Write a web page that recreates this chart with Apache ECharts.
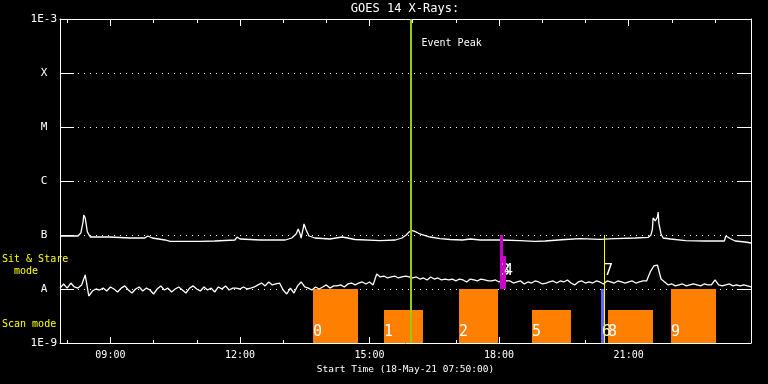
<!DOCTYPE html>
<html><head><meta charset="utf-8">
<script src="https://cdn.jsdelivr.net/npm/echarts@6/dist/echarts.min.js"></script>
<style>html,body{margin:0;padding:0;background:#000;}#c{width:768px;height:384px;}</style>
</head><body><div id="c"></div>
<script>
// ---------- data ----------
const chartTitle = 'GOES 14 X-Rays:';
const axisTitle = 'Start Time (18-May-21 07:50:00)';
const timeMin = '07:50', timeMax = '23:50';
const xMajorTicks = ['09:00','12:00','15:00','18:00','21:00'];
const xMinorTicks = ['08:00','09:00','10:00','11:00','12:00','13:00','14:00','15:00','16:00','17:00','18:00','19:00','20:00','21:00','22:00','23:00'];
const yTickValues = [1e-9,1e-8,1e-7,1e-6,1e-5,1e-4,1e-3];
const yTickLabels = ['1E-9','A','B','C','M','X','1E-3'];

// long channel (1-8 A)
const longTimes = ['07:50','08:04','08:15','08:19','08:22','08:23','08:25','08:28','08:32','08:59','09:27','09:48','09:52','09:58','10:16','10:23','11:05','11:25','11:53','11:56','12:00','12:28','13:03','13:12','13:18','13:21','13:24','13:25','13:28','13:29','13:32','13:36','13:44','14:05','14:22','14:40','15:15','15:36','15:45','15:51','15:55','15:58','16:03','16:10','16:24','16:38','16:52','17:09','17:20','17:34','18:02','18:29','18:50','19:04','19:18','19:32','19:53','20:20','20:41','21:09','21:27','21:31','21:33','21:34','21:37','21:40','21:41','21:42','21:45','21:48','21:58','22:19','22:46','23:13','23:15','23:17','23:21','23:28','23:42','23:50'];
const longFlux = [9.58e-8,9.58e-8,9.58e-8,1.09e-7,1.74e-7,2.35e-7,2.07e-7,1.14e-7,9.18e-8,9.18e-8,8.80e-8,8.80e-8,9.58e-8,8.80e-8,8.08e-8,7.6e-8,7.6e-8,7.74e-8,8.08e-8,9.18e-8,8.43e-8,8.08e-8,8.08e-8,8.80e-8,1.045e-7,1.29e-7,1.0e-7,8.8e-8,1.35e-7,1.60e-7,1.24e-7,9.58e-8,8.80e-8,8.43e-8,9.18e-8,8.25e-8,7.9e-8,8.08e-8,8.80e-8,1.0e-7,1.14e-7,1.22e-7,1.17e-7,1.045e-7,9.18e-8,8.6e-8,8.25e-8,8.08e-8,8.43e-8,8.08e-8,8.08e-8,7.84e-8,7.6e-8,7.74e-8,8.0e-8,8.25e-8,8.55e-8,8.3e-8,8.6e-8,8.80e-8,9.0e-8,1.0e-7,1.29e-7,2.07e-7,1.82e-7,2.15e-7,2.67e-7,1.65e-7,1.045e-7,8.8e-8,8.43e-8,7.9e-8,7.74e-8,7.74e-8,9.58e-8,1.0e-7,8.6e-8,7.74e-8,7.42e-8,7.11e-8];

// short channel (0.5-4 A), one sample every 5 minutes from 07:50
const shortStart = '07:50', shortStepMin = 5;
const shortFlux = [
1.04e-8,1.24e-8,1.04e-8,1.29e-8,1.09e-8,1.04e-8,1.19e-8,1.82e-8,7.42e-9,9.18e-9,1.00e-8,
9.58e-9,1.04e-8,9.18e-9,1.09e-8,1.00e-8,8.80e-9,1.04e-8,1.14e-8,9.58e-9,8.43e-9,1.00e-8,1.09e-8,9.18e-9,1.04e-8,9.58e-9,8.08e-9,1.00e-8,1.14e-8,9.58e-9,1.04e-8,8.80e-9,1.00e-8,1.09e-8,9.58e-9,8.43e-9,1.04e-8,1.14e-8,1.00e-8,9.18e-9,1.09e-8,9.58e-9,1.04e-8,8.80e-9,1.09e-8,1.00e-8,1.14e-8,9.58e-9,1.04e-8,
1.04e-8,1.00e-8,1.09e-8,1.00e-8,1.04e-8,1.09e-8,
1.19e-8,1.29e-8,1.14e-8,1.35e-8,1.19e-8,1.24e-8,1.29e-8,
9.58e-9,8.08e-9,1.04e-8,8.43e-9,1.14e-8,
1.35e-8,1.09e-8,
1.04e-8,9.58e-9,1.09e-8,1.00e-8,
1.09e-8,1.19e-8,1.04e-8,1.14e-8,1.14e-8,1.19e-8,1.09e-8,
1.24e-8,1.29e-8,1.19e-8,1.29e-8,1.35e-8,1.24e-8,
1.35e-8,1.19e-8,
1.90e-8,
1.67e-8,1.74e-8,1.60e-8,1.67e-8,1.74e-8,1.60e-8,1.67e-8,1.74e-8,1.67e-8,
1.60e-8,1.67e-8,1.53e-8,1.60e-8,1.47e-8,1.67e-8,1.53e-8,1.60e-8,1.47e-8,1.53e-8,
1.47e-8,1.53e-8,1.41e-8,1.53e-8,1.47e-8,1.35e-8,1.53e-8,1.47e-8,1.41e-8,1.53e-8,1.47e-8,1.41e-8,
1.41e-8,1.47e-8,1.35e-8,1.53e-8,1.41e-8,
1.41e-8,1.29e-8,1.35e-8,1.41e-8,1.24e-8,1.35e-8,1.29e-8,1.41e-8,1.35e-8,1.24e-8,1.29e-8,1.35e-8,1.41e-8,1.29e-8,
1.41e-8,1.35e-8,1.47e-8,1.29e-8,1.19e-8,1.35e-8,1.41e-8,1.29e-8,
1.35e-8,1.29e-8,1.41e-8,1.35e-8,1.24e-8,1.41e-8,1.35e-8,1.29e-8,1.41e-8,1.35e-8,1.29e-8,1.35e-8,1.41e-8,1.29e-8,1.35e-8,1.41e-8,
1.41e-8,2.07e-8,2.67e-8,2.78e-8,1.53e-8,
1.35e-8,
1.19e-8,1.24e-8,1.14e-8,1.19e-8,1.24e-8,1.14e-8,1.19e-8,1.24e-8,1.19e-8,1.14e-8,1.24e-8,1.19e-8,
1.19e-8,
1.47e-8,
1.19e-8,1.14e-8,1.19e-8,1.24e-8,1.14e-8,1.19e-8,1.14e-8,1.19e-8,1.14e-8,1.09e-8];

// scan mode observations (orange)
const scanLabels = ['0','1','2','5','8','9'];
const scanStart  = ['13:42','15:20','17:05','18:46','20:32','21:59'];
const scanEnd    = ['14:44','16:15','17:59','19:40','21:34','23:02'];
const scanTop    = [1e-8, 4.1e-9, 1e-8, 4.1e-9, 4.1e-9, 1e-8];
const scanBase   = 1e-9;

// sit & stare observations (magenta)
const sitLabels = ['3','4'];
const sitStart  = ['18:01','18:06'];
const sitEnd    = ['18:06','18:10'];
const sitTop    = [1e-7, 4.1e-8];
const sitBase   = 1e-8;

// other observation (blue) in scan row
const blueLabels = ['6'];
const blueStart = ['20:22'];
const blueEnd   = ['20:27'];
const blueTop   = [1e-8];

// observation marker line (yellow)
const markLabels = ['7'];
const markTime = ['20:26'];
const markFrom = [1e-9];
const markTo   = [1e-7];

// event peak
const peakTime = '15:58';
const peakLabel = 'Event Peak';

// ---------- helpers ----------
function toH(s){ const p = s.split(':'); return (+p[0]) + (+p[1]) / 60; }
const FONT = '"DejaVu Sans Mono", monospace';
const pad2 = n => (n < 10 ? '0' : '') + n;

const xMin = toH(timeMin), xMax = toH(timeMax);
const majorVals = xMajorTicks.map(toH);
const minorVals = xMinorTicks.map(toH);

const longData = longTimes.map((t, i) => [toH(t), longFlux[i]]);
const shortData = shortFlux.map((v, i) => [toH(shortStart) + i * shortStepMin / 60, v]);

function rectItem(api, t0, t1, lo, hi, color) {
  const a = api.coord([t0, hi]);
  const b = api.coord([t1, lo]);
  const x0 = Math.round(a[0]), x1 = Math.round(b[0]);
  const y0 = Math.round(a[1]), y1 = Math.round(b[1]);
  return { type: 'rect', shape: { x: x0, y: y0, width: Math.max(1, x1 - x0), height: y1 - y0 }, style: { fill: color } };
}
function labelItem(x, y, txt) {
  return { type: 'text', style: { text: txt, x: x, y: y, fill: '#ffffff', font: '15px ' + FONT, align: 'left', verticalAlign: 'middle' } };
}

const chart = echarts.init(document.getElementById('c'), null, { renderer: 'canvas' });

const baseX = { type: 'value', min: xMin, max: xMax, splitLine: { show: false }, axisLabel: { show: false }, axisLine: { show: false } };

const option = {
  backgroundColor: '#000000',
  animation: false,
  grid: { left: 60, right: 17, top: 19, bottom: 41, containLabel: false },
  xAxis: [
    Object.assign({}, baseX, {
      position: 'bottom',
      axisLine: { show: true, lineStyle: { color: '#ffffff', width: 1 } },
      axisTick: { show: true, inside: true, length: 6, customValues: majorVals, lineStyle: { color: '#ffffff' } },
      axisLabel: { show: true, customValues: majorVals, color: '#ffffff', fontFamily: FONT, fontSize: 10, margin: 7,
        formatter: v => pad2(Math.round(v)) + ':00' },
      name: axisTitle, nameLocation: 'middle', nameGap: 18,
      nameTextStyle: { color: '#ffffff', fontFamily: FONT, fontSize: 9.5 }
    }),
    Object.assign({}, baseX, {
      position: 'bottom',
      axisTick: { show: true, inside: true, length: 3, customValues: minorVals, lineStyle: { color: '#ffffff' } }
    }),
    Object.assign({}, baseX, {
      position: 'top',
      axisLine: { show: true, lineStyle: { color: '#ffffff', width: 1 } },
      axisTick: { show: true, inside: true, length: 7, customValues: majorVals, lineStyle: { color: '#ffffff' } }
    }),
    Object.assign({}, baseX, {
      position: 'top',
      axisTick: { show: true, inside: true, length: 4, customValues: minorVals, lineStyle: { color: '#ffffff' } }
    })
  ],
  yAxis: [
    {
      type: 'log', logBase: 10, min: 1e-9, max: 1e-3, splitNumber: 6, position: 'left',
      axisLine: { show: true, lineStyle: { color: '#ffffff', width: 1 } },
      axisTick: { show: true, inside: true, length: 14, lineStyle: { color: '#ffffff' } },
      minorTick: { show: false },
      splitLine: { show: true, lineStyle: { color: '#ffffff', width: 1, type: [1, 5] } },
      axisLabel: {
        color: '#ffffff', fontFamily: FONT, fontSize: 11, margin: 3,
        formatter: function (v) {
          const idx = Math.round(Math.log10(v)) + 9;
          const s = yTickLabels[idx] || '';
          return s.length === 1 ? '{c|' + s + '}' : s;
        },
        rich: { c: { width: 26, align: 'center', color: '#ffffff', fontFamily: FONT, fontSize: 11 } }
      }
    },
    {
      type: 'log', logBase: 10, min: 1e-9, max: 1e-3, splitNumber: 6, position: 'right',
      axisLine: { show: true, lineStyle: { color: '#ffffff', width: 1 } },
      axisTick: { show: true, inside: true, length: 14, lineStyle: { color: '#ffffff' } },
      axisLabel: { show: false }, splitLine: { show: false }, minorTick: { show: false }
    }
  ],
  graphic: [
    { type: 'text', x: 405, y: 9.2, style: { text: chartTitle, fill: '#ffffff', font: '12px ' + FONT, align: 'center', verticalAlign: 'middle' } },
    { type: 'text', x: 2, y: 259, style: { text: 'Sit & Stare', fill: '#ffff00', font: '10px ' + FONT, align: 'left', verticalAlign: 'middle' } },
    { type: 'text', x: 2, y: 271.5, style: { text: '  mode', fill: '#ffff00', font: '10px ' + FONT, align: 'left', verticalAlign: 'middle' } },
    { type: 'text', x: 2, y: 324.8, style: { text: 'Scan mode', fill: '#ffff00', font: '10px ' + FONT, align: 'left', verticalAlign: 'middle' } }
  ],
  series: [
    {
      name: 'scan', type: 'custom', z: 1, xAxisIndex: 0, yAxisIndex: 0,
      data: scanStart.map((s, i) => [toH(s), toH(scanEnd[i]), scanBase, scanTop[i]]),
      encode: { x: [0, 1], y: [2, 3] },
      renderItem: function (params, api) {
        const i = params.dataIndex;
        const r = rectItem(api, api.value(0), api.value(1), api.value(2), api.value(3), '#ff8000');
        const lab = labelItem(r.shape.x, r.shape.y + r.shape.height - 11, scanLabels[i]);
        return { type: 'group', children: [r, lab] };
      }
    },
    {
      name: 'long', type: 'line', z: 2, xAxisIndex: 0, yAxisIndex: 0, data: longData,
      symbol: 'none', showSymbol: false, smooth: false,
      lineStyle: { color: '#ffffff', width: 1.3 }
    },
    {
      name: 'short', type: 'line', z: 2, xAxisIndex: 0, yAxisIndex: 0, data: shortData,
      symbol: 'none', showSymbol: false, smooth: false,
      lineStyle: { color: '#ffffff', width: 1.3 }
    },
    {
      name: 'sit', type: 'custom', z: 3, xAxisIndex: 0, yAxisIndex: 0,
      data: sitStart.map((s, i) => [toH(s), toH(sitEnd[i]), sitBase, sitTop[i]]),
      encode: { x: [0, 1], y: [2, 3] },
      renderItem: function (params, api) {
        const i = params.dataIndex;
        const r = rectItem(api, api.value(0), api.value(1), api.value(2), api.value(3), '#cc00cc');
        const lab = labelItem(r.shape.x + 1, r.shape.y + r.shape.height - 17.5, sitLabels[i]);
        return { type: 'group', children: [r, lab] };
      }
    },
    {
      name: 'blue', type: 'custom', z: 3, xAxisIndex: 0, yAxisIndex: 0,
      data: blueStart.map((s, i) => [toH(s), toH(blueEnd[i]), scanBase, blueTop[i]]),
      encode: { x: [0, 1], y: [2, 3] },
      renderItem: function (params, api) {
        const i = params.dataIndex;
        const r = rectItem(api, api.value(0), api.value(1), api.value(2), api.value(3), '#6464ff');
        const lab = labelItem(r.shape.x + 1, r.shape.y + r.shape.height - 11, blueLabels[i]);
        return { type: 'group', children: [r, lab] };
      }
    },
    {
      name: 'mark', type: 'custom', z: 4, xAxisIndex: 0, yAxisIndex: 0,
      data: markTime.map((t, i) => [toH(t), markFrom[i], markTo[i]]),
      encode: { x: 0, y: [1, 2] },
      renderItem: function (params, api) {
        const i = params.dataIndex;
        const a = api.coord([api.value(0), api.value(2)]);
        const b = api.coord([api.value(0), api.value(1)]);
        const x = Math.round(a[0]) + 0.5;
        return { type: 'group', children: [
          { type: 'line', shape: { x1: x, y1: Math.round(a[1]), x2: x, y2: Math.round(b[1]) }, style: { stroke: '#ffff00', lineWidth: 1 } },
          labelItem(Math.round(a[0]), Math.round(b[1]) - 71.5, markLabels[i])
        ] };
      }
    },
    {
      name: 'peak', type: 'custom', z: 5, xAxisIndex: 0, yAxisIndex: 0,
      data: [[toH(peakTime), 1e-9, 1e-3]],
      encode: { x: 0, y: [1, 2] },
      renderItem: function (params, api) {
        const a = api.coord([api.value(0), api.value(2)]);
        const b = api.coord([api.value(0), api.value(1)]);
        const x = Math.round(a[0]);
        return { type: 'group', children: [
          { type: 'rect', shape: { x: x - 1, y: Math.round(a[1]), width: 2, height: Math.round(b[1]) - Math.round(a[1]) }, style: { fill: '#99cc00' } },
          { type: 'text', style: { text: peakLabel, x: x + 10.5, y: Math.round(a[1]) + 24, fill: '#ffffff', font: '10px ' + FONT, align: 'left', verticalAlign: 'middle' } }
        ] };
      }
    }
  ]
};
chart.setOption(option);
</script>
</body></html>
